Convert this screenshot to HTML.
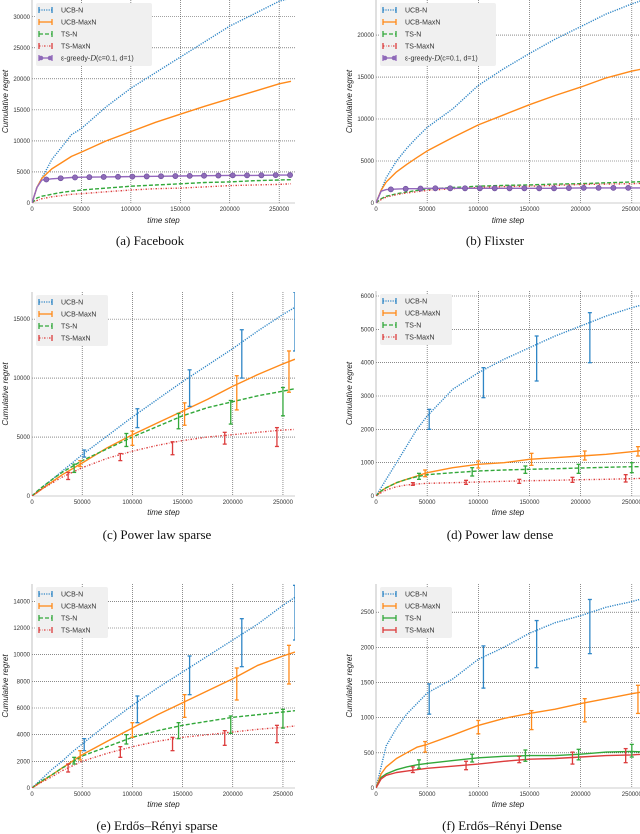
<!DOCTYPE html>
<html><head><meta charset="utf-8">
<style>
html,body{margin:0;padding:0;background:#fff;}
svg{display:block;font-family:"Liberation Sans",sans-serif;}
.tick{font-size:6px;fill:#333;}
.ax{font-size:8px;font-style:italic;fill:#222;}
.cap{font-family:"Liberation Serif",serif;font-size:13px;fill:#111;}
.leg{font-size:7px;fill:#333;}
</style></head>
<body>
<svg id="fig" width="640" height="834" viewBox="0 0 640 834" xmlns="http://www.w3.org/2000/svg"></svg>
<script>
// ---- data ----
const xs = [0,5000,10000,20000,30000,40000,50000,75000,100000,125000,150000,175000,200000,225000,250000,262000];
const seriesNames = ["UCB-N","UCB-MaxN","TS-N","TS-MaxN"];
const xTicks = [0,50000,100000,150000,200000,250000];
const xTickLabels = ["0","50000","100000","150000","200000","250000"];

// Panel a (Facebook)
const aUCBN   = [0,2500,4000,7000,9000,11000,12000,15500,18500,21000,23500,26000,28500,30500,32500,33000];
const aUCBMax = [0,2500,4000,5500,6500,7500,8200,10000,11500,13000,14300,15600,16800,18000,19200,19600];
const aTSN    = [0,800,1100,1400,1700,1900,2100,2400,2700,2900,3100,3300,3400,3600,3700,3750];
const aTSMax  = [0,400,700,1000,1200,1400,1500,1800,2100,2300,2400,2600,2800,2900,3000,3100];
const aEps    = [0,2500,3700,3900,4000,4100,4150,4200,4250,4300,4350,4400,4450,4450,4500,4500];
const aYTicks = [0,5000,10000,15000,20000,25000,30000];

// Panel b (Flixster)
const bUCBN   = [0,1500,3000,5000,6500,7800,9000,11200,14000,16000,17800,19500,21000,22500,23700,24200];
const bUCBMax = [0,1500,2500,3700,4600,5400,6200,7800,9300,10500,11700,12800,13800,14900,15700,16000];
const bTSN    = [0,500,800,1100,1300,1500,1650,1850,2000,2100,2150,2250,2300,2400,2500,2550];
const bTSMax  = [0,400,700,1000,1200,1350,1500,1700,1850,1950,2000,2100,2200,2250,2300,2350];
const bEps    = [0,1400,1600,1650,1700,1700,1750,1750,1750,1750,1750,1750,1800,1800,1800,1800];
const bYTicks = [0,5000,10000,15000,20000];

// Panel c (Power law sparse)
const cUCBN   = [0,350,700,1400,2100,2800,3500,5100,6700,8200,9700,11100,12500,14000,15400,16000];
const cUCBMax = [0,300,600,1200,1800,2300,2800,4100,5200,6200,7200,8200,9300,10300,11200,11600];
const cTSN    = [0,400,750,1400,2000,2500,3000,4000,5000,5900,6800,7500,8000,8500,8900,9100];
const cTSMax  = [0,300,600,1100,1600,2000,2400,3200,3800,4300,4700,5000,5200,5400,5600,5650];
const cErrUCBN   = [[52000,3300,3900],[105000,5800,7400],[157000,7600,10700],[209000,10000,14100],[262000,12300,17300]];
const cErrUCBMax = [[48000,2500,3000],[100000,4300,5500],[152000,6000,7900],[204000,7300,10200],[256000,8800,12300]];
const cErrTSN    = [[42000,2000,2700],[94000,4200,5300],[146000,5700,7000],[198000,6100,8100],[250000,6800,9200]];
const cErrTSMax  = [[36000,1400,2000],[88000,3000,3600],[140000,3500,4600],[192000,4400,5400],[244000,4200,5800]];
const cYTicks = [0,5000,10000,15000];

// Panel d (Power law dense)
const dUCBN   = [0,250,500,1000,1500,2000,2400,3200,3700,4100,4450,4800,5100,5400,5650,5750];
const dUCBMax = [0,150,250,400,500,600,700,850,950,1000,1100,1150,1200,1250,1330,1370];
const dTSN    = [0,150,250,400,500,580,640,700,750,780,800,820,840,860,880,880];
const dTSMax  = [0,100,180,280,330,360,380,400,420,440,460,470,490,500,520,530];
const dErrUCBN   = [[52000,2000,2600],[105000,2950,3850],[157000,3450,4800],[209000,4000,5500],[262000,4300,6100]];
const dErrUCBMax = [[48000,580,780],[100000,840,1050],[152000,920,1280],[204000,1080,1350],[256000,1200,1480]];
const dErrTSN    = [[42000,500,680],[94000,600,850],[146000,680,900],[198000,680,950],[250000,700,1000]];
const dErrTSMax  = [[36000,320,400],[88000,350,470],[140000,380,500],[192000,410,560],[244000,420,640]];
const dYTicks = [0,1000,2000,3000,4000,5000,6000];

// Panel e (Erdos-Renyi sparse)
const eUCBN   = [0,350,700,1400,2000,2700,3300,4800,6200,7500,8700,9900,11100,12300,13700,14300];
const eUCBMax = [0,250,500,1000,1500,2000,2500,3500,4500,5500,6400,7300,8200,9200,9900,10200];
const eTSN    = [0,300,550,1000,1500,1900,2400,3100,3800,4300,4700,5000,5300,5500,5700,5800];
const eTSMax  = [0,250,450,850,1300,1650,2000,2600,3100,3500,3800,4000,4200,4400,4550,4650];
const eErrUCBN   = [[52000,2800,3700],[105000,4900,6900],[157000,7000,9900],[209000,9100,12700],[262000,11100,15200]];
const eErrUCBMax = [[48000,2100,2800],[100000,3800,4900],[152000,5300,7000],[204000,6600,9000],[256000,7800,10700]];
const eErrTSN    = [[42000,1800,2300],[94000,3300,4000],[146000,3700,4900],[198000,4100,5400],[250000,4500,5900]];
const eErrTSMax  = [[36000,1200,1800],[88000,2300,3100],[140000,2800,3800],[192000,3200,4300],[244000,3400,4700]];
const eYTicks = [0,2000,4000,6000,8000,10000,12000,14000];

// Panel f (Erdos-Renyi dense)
const fUCBN   = [0,300,600,850,1050,1200,1350,1550,1830,2000,2200,2350,2450,2570,2650,2700];
const fUCBMax = [0,200,300,420,500,580,620,750,890,990,1060,1120,1200,1270,1340,1370];
const fTSN    = [0,150,200,260,300,330,350,390,430,450,460,460,480,510,520,510];
const fTSMax  = [0,130,180,220,240,260,280,310,340,380,410,420,440,460,470,480];
const fErrUCBN   = [[52000,1050,1480],[105000,1420,2020],[157000,1710,2380],[209000,1910,2680],[262000,2070,2880]];
const fErrUCBMax = [[48000,510,660],[100000,770,960],[152000,830,1100],[204000,940,1270],[256000,1060,1460]];
const fErrTSN    = [[42000,280,400],[94000,370,480],[146000,380,540],[198000,400,550],[250000,440,620]];
const fErrTSMax  = [[36000,220,300],[88000,260,380],[140000,360,450],[192000,340,510],[244000,360,560]];
const fYTicks = [0,500,1000,1500,2000,2500];

// ---- styles ----
const COLORS = ["#2f86c6","#ff8a1a","#32a83a","#dc3c3c","#9467bd"];
const DASH_SPARSE = ["1.2,1.2","", "4,2","1.5,1.5,0.5,1.5"];
const DASH_SOLID = ["1.2,1.2","","",""];
const NS = "http://www.w3.org/2000/svg";
const svg = document.getElementById("fig");

function mk(tag, attrs, parent){
  const el = document.createElementNS(NS, tag);
  for (const k in attrs) el.setAttribute(k, attrs[k]);
  (parent||svg).appendChild(el);
  return el;
}

function panel(cfg){
  const g = mk("g",{});
  
  
  const sx = v => cfg.L + (v/cfg.xmax)*(cfg.R-cfg.L);
  const sy = v => cfg.B - (v/cfg.ymax)*(cfg.B-cfg.T);
  const clipId = "clip-"+cfg.name;
  const cp = mk("clipPath",{id:clipId},g);
  mk("rect",{x:cfg.L,y:cfg.T,width:cfg.R-cfg.L,height:cfg.B-cfg.T},cp);
  const grid = mk("g",{},g);
  
  
  xTicks.forEach((t,i)=>{
    const x = sx(t);
    if (t>0) mk("line",{x1:x,x2:x,y1:cfg.T,y2:cfg.B,stroke:"#444","stroke-width":0.6,"stroke-dasharray":"1,1"},grid);
    const tl = mk("text",{x:x,y:cfg.B+8,"text-anchor":"middle",class:"tick"},g);
    tl.textContent = xTickLabels[i];
    
    
  });
  cfg.yTicks.forEach(t=>{
    const y = sy(t);
    if (t>0) mk("line",{x1:cfg.L,x2:cfg.R,y1:y,y2:y,stroke:"#444","stroke-width":0.6,"stroke-dasharray":"1,1"},grid);
    const tl = mk("text",{x:cfg.L-2,y:y+2,"text-anchor":"end",class:"tick"},g);
    tl.textContent = String(t);
    
    
  });
  mk("line",{x1:cfg.L,x2:cfg.R,y1:cfg.B,y2:cfg.B,stroke:"#999","stroke-width":0.6},g);
  mk("line",{x1:cfg.L,x2:cfg.L,y1:cfg.T,y2:cfg.B,stroke:"#999","stroke-width":0.6},g);
  const plot = mk("g",{"clip-path":"url(#"+clipId+")"},g);
  cfg.series.forEach((s,i)=>{
    const pts = xs.map((x,j)=>sx(x).toFixed(1)+","+sy(s[j]).toFixed(1)).join(" ");
    const pl = mk("polyline",{points:pts,fill:"none",stroke:COLORS[i],"stroke-width":1.4,"stroke-dasharray":cfg.dash[i]||"","stroke-linejoin":"round"},plot);
    
    
  });
  if (cfg.errs){
    cfg.errs.forEach((arr,i)=>{
      arr.forEach(e=>{
        const x = sx(e[0]), y1 = sy(e[1]), y2 = sy(e[2]);
        const eg = mk("g",{stroke:COLORS[i],"stroke-width":1.3},plot);
        
        
        mk("line",{x1:x,x2:x,y1:y1,y2:y2},eg);
        mk("line",{x1:x-2,x2:x+2,y1:y1,y2:y1},eg);
        mk("line",{x1:x-2,x2:x+2,y1:y2,y2:y2},eg);
      });
    });
  }
  if (cfg.eps){
    const pts = xs.map((x,j)=>sx(x).toFixed(1)+","+sy(cfg.eps[j]).toFixed(1)).join(" ");
    const pl = mk("polyline",{points:pts,fill:"none",stroke:COLORS[4],"stroke-width":1.4},plot);
    
    
    for (let x=14500; x<=cfg.xmax; x+=14500){
      let j=1; while (j<xs.length-1 && xs[j]<x) j++;
      const v = cfg.eps[j-1] + (cfg.eps[j]-cfg.eps[j-1])*(x-xs[j-1])/(xs[j]-xs[j-1]);
      const c = mk("circle",{cx:sx(x),cy:sy(v),r:2.6,fill:"#8e6bb8",stroke:"#6a4a9a","stroke-width":0.6},plot);
      
      
    }
  }
  const xl = mk("text",{x:(cfg.L+cfg.R)/2,y:cfg.xlY,"text-anchor":"middle",class:"ax"},g);
  xl.textContent = "time step";
  
  
  const ym = (cfg.T+cfg.B)/2;
  const yl = mk("text",{x:cfg.ylX,y:ym,"text-anchor":"middle",class:"ax",transform:"rotate(-90 "+cfg.ylX+" "+ym+")"},g);
  yl.textContent = "Cumulative regret";
  
  
  const cap = mk("text",{x:cfg.capX,y:cfg.capY,"text-anchor":"middle",class:"cap"},g);
  cap.textContent = cfg.caption;
  
  
  const n = cfg.eps ? 5 : 4;
  const lg = mk("g",{},g);
  
  
  const lx = cfg.L+4, ly = cfg.T+3;
  mk("rect",{x:lx,y:ly,width:cfg.eps?116:72,height:n*12+3,fill:"#f0f0f0",rx:2},lg);
  for (let i=0;i<n;i++){
    const y = ly+7+i*12;
    const en = mk("g",{},lg);
    
    
    const col = COLORS[i];
    const da = i<4 ? (cfg.dash[i]||"") : "";
    mk("line",{x1:lx+3,x2:lx+16,y1:y,y2:y,stroke:col,"stroke-width":1.3,"stroke-dasharray":da},en);
    mk("line",{x1:lx+3,x2:lx+3,y1:y-3,y2:y+3,stroke:col,"stroke-width":1.3},en);
    mk("line",{x1:lx+16,x2:lx+16,y1:y-3,y2:y+3,stroke:col,"stroke-width":1.3},en);
    if (i===4){
      mk("circle",{cx:lx+5,cy:y,r:2.3,fill:"#8e6bb8"},en);
      mk("circle",{cx:lx+14,cy:y,r:2.3,fill:"#8e6bb8"},en);
    }
    const t = mk("text",{x:lx+25,y:y+2.5,class:"leg"},en);
    if (i<4) t.textContent = seriesNames[i];
    else {
      t.appendChild(document.createTextNode("\u03B5-greedy-"));
      const ts = mk("tspan",{"font-style":"italic","font-family":"Liberation Serif, serif","font-size":"8px"},t);
      ts.textContent = "D";
      t.appendChild(document.createTextNode("(c=0.1, d=1)"));
    }
  }
}

panel({name:"panel-a-facebook",L:32,R:295,T:0,B:203,xmax:266000,ymax:32700,yTicks:aYTicks,
  series:[aUCBN,aUCBMax,aTSN,aTSMax],eps:aEps,dash:DASH_SPARSE,xlY:223,ylX:8,capX:150,capY:245,caption:"(a) Facebook"});
panel({name:"panel-b-flixster",L:376,R:640,T:0,B:203,xmax:258000,ymax:24170,yTicks:bYTicks,
  series:[bUCBN,bUCBMax,bTSN,bTSMax],eps:bEps,dash:DASH_SPARSE,xlY:223,ylX:352,capX:495,capY:245,caption:"(b) Flixster"});
panel({name:"panel-c-power-law-sparse",L:32,R:295,T:292,B:496,xmax:262000,ymax:17300,yTicks:cYTicks,
  series:[cUCBN,cUCBMax,cTSN,cTSMax],errs:[cErrUCBN,cErrUCBMax,cErrTSN,cErrTSMax],dash:DASH_SPARSE,xlY:515,ylX:8,capX:157,capY:539,caption:"(c) Power law sparse"});
panel({name:"panel-d-power-law-dense",L:376,R:640,T:291,B:496,xmax:258000,ymax:6150,yTicks:dYTicks,
  series:[dUCBN,dUCBMax,dTSN,dTSMax],errs:[dErrUCBN,dErrUCBMax,dErrTSN,dErrTSMax],dash:DASH_SPARSE,xlY:515,ylX:352,capX:500,capY:539,caption:"(d) Power law dense"});
panel({name:"panel-e-erdos-renyi-sparse",L:32,R:295,T:584,B:788,xmax:262000,ymax:15300,yTicks:eYTicks,
  series:[eUCBN,eUCBMax,eTSN,eTSMax],errs:[eErrUCBN,eErrUCBMax,eErrTSN,eErrTSMax],dash:DASH_SPARSE,xlY:807,ylX:8,capX:157,capY:830,caption:"(e) Erd\u0151s\u2013R\u00e9nyi sparse"});
panel({name:"panel-f-erdos-renyi-dense",L:376,R:640,T:584,B:788,xmax:258000,ymax:2900,yTicks:fYTicks,
  series:[fUCBN,fUCBMax,fTSN,fTSMax],errs:[fErrUCBN,fErrUCBMax,fErrTSN,fErrTSMax],dash:DASH_SOLID,xlY:807,ylX:352,capX:502,capY:830,caption:"(f) Erd\u0151s\u2013R\u00e9nyi Dense"});
</script>
</body></html>
